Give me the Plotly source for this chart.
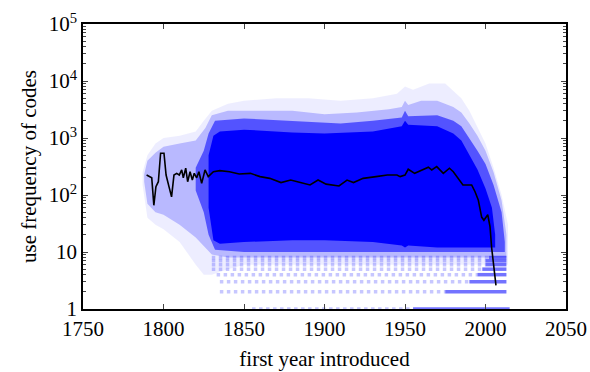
import plotly.graph_objects as go

# ---- data ----
line_years = [1789.5, 1792.7, 1794, 1795.3, 1796.8, 1798.2, 1800.3, 1801.6, 1803.4, 1805,
              1806.5, 1808.2, 1809.8, 1811.3, 1812.3, 1813.8, 1815, 1816.5, 1817.9, 1819.1,
              1820.6, 1822, 1823.7, 1825.8, 1827.8, 1831, 1835, 1841, 1847, 1854,
              1860, 1866, 1873, 1879, 1885, 1891, 1896, 1901, 1909, 1914,
              1918, 1924, 1932, 1939, 1945, 1947, 1950, 1952, 1956, 1961,
              1964.5, 1966.6, 1969.7, 1973.8, 1977.6, 1980, 1983, 1986, 1989.3, 1991.4,
              1993.5, 1995.5, 1997.6, 1999, 2001.4, 2002.8, 2003.8, 2005.3, 2006.5]
line_values = [224, 200, 66, 140, 171, 540, 540, 224, 140, 93,
               224, 240, 224, 275, 200, 295, 171, 256, 183, 240,
               200, 256, 160, 275, 210, 256, 268, 256, 233, 240,
               210, 196, 165, 183, 165, 150, 183, 155, 144, 183,
               165, 196, 210, 224, 224, 210, 224, 283, 240, 275,
               307, 275, 315, 240, 295, 256, 196, 150, 150, 150,
               114, 82, 41, 36, 45, 28, 12, 5.5, 2.6]

# point cloud, described as density envelopes (years, upper value, lower value)
outer_years = [1787, 1790, 1795, 1800, 1810, 1820, 1825, 1830, 1840, 1850, 1870, 1890, 1910,
               1930, 1945, 1950, 1955, 1965, 1975, 1985, 1990, 1995, 2000, 2005, 2010, 2014]
outer_upper = [250, 500, 800, 1000, 1100, 1300, 2000, 3000, 4000, 4500, 5000, 5000, 4500,
               5000, 6000, 8000, 7000, 9000, 9000, 5000, 3000, 1600, 800, 300, 100, 30]
outer_lower = [150, 40, 30, 25, 15, 6, 4, 4, 5, 6, 6, 6, 6,
               6, 6, 6, 6, 6, 6, 6, 6, 6, 6, 6, 6, 6]

light_years = [1788, 1790, 1795, 1800, 1810, 1820, 1826, 1830, 1840, 1860, 1880, 1900, 1920,
               1940, 1948, 1950, 1952, 1960, 1970, 1980, 1985, 1990, 1995, 2000, 2005, 2010, 2013]
light_upper = [230, 400, 550, 700, 800, 900, 1500, 2500, 3000, 3000, 3000, 2600, 2800,
               3200, 3500, 4500, 3800, 4500, 4500, 3500, 2800, 1800, 1100, 600, 250, 80, 20]
light_lower = [170, 70, 50, 45, 30, 18, 12, 9, 8, 8, 8, 8, 8,
               8, 8, 8, 8, 8, 8, 8, 8, 8, 8, 8, 8, 8, 8]

mid_years = [1820, 1825, 1828, 1832, 1850, 1880, 1910, 1930, 1948, 1950, 1952, 1970, 1980,
             1985, 1990, 1995, 2000, 2005, 2010, 2012]
mid_upper = [300, 600, 1200, 2000, 2200, 2000, 1800, 2000, 2300, 3000, 2400, 2500, 2000,
             1600, 1000, 600, 350, 150, 50, 15]
mid_lower = [120, 50, 20, 11, 10, 10, 10, 10, 10, 10, 10, 10, 10,
             10, 10, 10, 10, 10, 10, 10]

core_years = [1828, 1831, 1835, 1850, 1880, 1900, 1930, 1948, 1950, 1952, 1970, 1980, 1985,
              1990, 1995, 2000, 2004, 2006]
core_upper = [500, 1100, 1300, 1400, 1250, 1200, 1300, 1600, 2000, 1700, 1600, 1200, 900,
              500, 280, 130, 60, 20]
core_lower = [60, 16, 14, 15, 16, 16, 15, 13, 12, 13, 12, 12, 12,
              12, 12, 12, 12, 12]

# discrete low counts (integer use frequencies) form horizontal dotted bands
band_values = [1, 2, 3, 4, 5, 6, 7, 8]
band_start = [1855, 1835, 1835, 1833, 1830, 1830, 1830, 1830]
band_dense_start = [1955, 1975, 1990, 1995, 1998, 2000, 2000, 2002]
band_end = [2015, 2013, 2013, 2013, 2013, 2013, 2013, 2013]

x_ticks = [1750, 1800, 1850, 1900, 1950, 2000, 2050]
y_ticks = [1, 10, 100, 1000, 10000, 100000]
y_tick_text = ["1", "10", "10<sup>2</sup>", "10<sup>3</sup>", "10<sup>4</sup>", "10<sup>5</sup>"]

fig = go.Figure()


def envelope(years, upper, lower, color):
    fig.add_trace(go.Scatter(
        x=list(years) + list(years)[::-1],
        y=list(upper) + list(lower)[::-1],
        fill="toself", fillcolor=color, mode="lines",
        line=dict(width=0), hoverinfo="skip", showlegend=False))


envelope(outer_years, outer_upper, outer_lower, "rgba(0,0,255,0.07)")
envelope(light_years, light_upper, light_lower, "rgba(0,0,255,0.22)")
envelope(mid_years, mid_upper, mid_lower, "rgba(0,0,255,0.55)")
envelope(core_years, core_upper, core_lower, "rgb(0,0,255)")

for v, s, d, e in zip(band_values, band_start, band_dense_start, band_end):
    fig.add_trace(go.Scatter(x=[s, d], y=[v, v], mode="lines",
                             line=dict(color="rgba(0,0,255,0.22)", width=3.5, dash="dot"),
                             hoverinfo="skip", showlegend=False))
    fig.add_trace(go.Scatter(x=[d, e], y=[v, v], mode="lines",
                             line=dict(color="rgba(0,0,255,0.55)", width=3.5),
                             hoverinfo="skip", showlegend=False))

fig.add_trace(go.Scatter(x=line_years, y=line_values, mode="lines",
                         line=dict(color="black", width=1.6), showlegend=False))

minor_vals = [m * 10 ** d for d in range(5) for m in range(2, 10)]
serif = "Liberation Serif"
tick_font = dict(family=serif, size=21, color="black")

fig.update_layout(
    width=590, height=372,
    margin=dict(l=83, r=24, t=24, b=63),
    paper_bgcolor="white", plot_bgcolor="white",
    font=dict(family=serif, size=21, color="black"),
    showlegend=False,
    xaxis=dict(range=[1750, 2050], tickvals=x_ticks, ticks="inside", ticklen=5,
               tickfont=tick_font, automargin=False,
               showline=True, linecolor="black", linewidth=1.5, mirror="ticks",
               showgrid=False, zeroline=False,
               title=dict(text="first year introduced", standoff=11,
                          font=dict(family=serif, size=21))),
    yaxis=dict(type="log", range=[0, 5], tickvals=y_ticks, ticktext=y_tick_text,
               tickfont=tick_font, automargin=False,
               ticks="inside", ticklen=5, showline=True, linecolor="black", linewidth=1.5,
               mirror="ticks", showgrid=False, zeroline=False,
               minor=dict(tickvals=minor_vals, ticks="inside", ticklen=3, showgrid=False),
               title=dict(text="use frequency of codes", standoff=6,
                          font=dict(family=serif, size=21))),
)

fig.write_html("out.html", config={"displayModeBar": False},
               post_script="document.body.style.margin='0';document.body.style.overflow='hidden';")
